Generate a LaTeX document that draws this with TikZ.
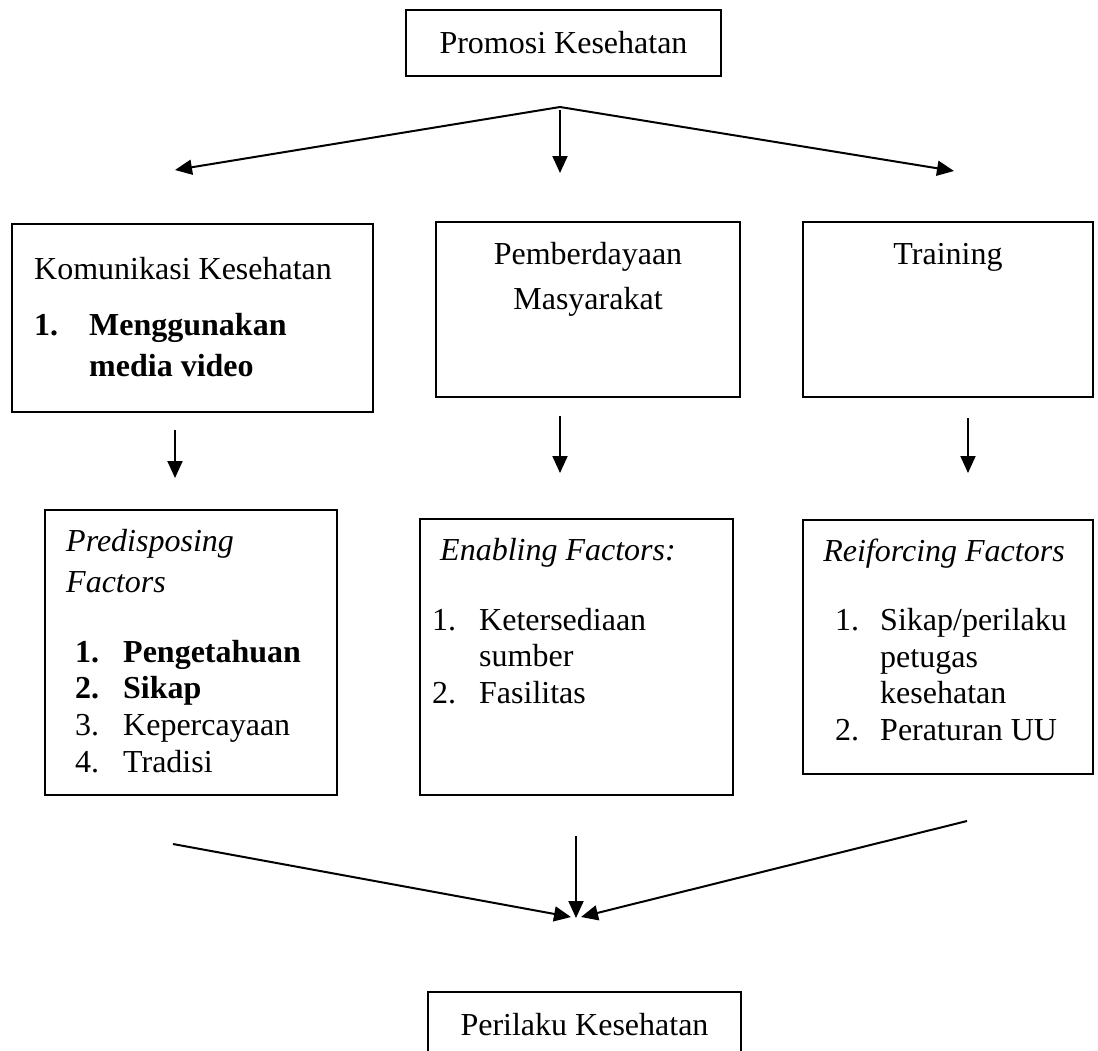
\documentclass[tikz,border=0pt]{standalone}
\usepackage{fontspec}
\setmainfont{Liberation Serif}
\usetikzlibrary{arrows.meta}
\begin{document}
\begin{tikzpicture}[x=1pt,y=-1pt,
  box/.style={draw,line width=1.6pt,inner sep=0pt},
  lbl/.style={inner sep=0pt,font=\fontsize{32}{37}\selectfont},
  arr/.style={line width=2pt,-{Triangle[length=17pt,width=15pt]}},
  ln/.style={line width=2pt}]
\path[use as bounding box] (0,0) rectangle (1098,1050);
\clip (0,0) rectangle (1098,1050);
\fill[white] (0,0) rectangle (1098,1050);

% top box
\node[box,lbl,minimum width=315pt,minimum height=66pt] (promosi) at (563.5,43) {Promosi Kesehatan};

% second row boxes
\node[box,minimum width=361pt,minimum height=188pt] (kom) at (192.5,318) {};
\node[box,minimum width=304pt,minimum height=175pt] (pem) at (588,309.5) {};
\node[box,minimum width=290pt,minimum height=175pt] (tra) at (948,309.5) {};

\node[lbl,anchor=base west] (komT) at (34,279) {Komunikasi Kesehatan};
\node[lbl,anchor=base west] (komN) at (34,335) {\bfseries 1.};
\node[lbl,anchor=base west] (komA) at (89,335) {\bfseries Menggunakan};
\node[lbl,anchor=base west] (komB) at (89,376) {\bfseries media video};

\node[lbl,anchor=base] (pemA) at (588,264) {Pemberdayaan};
\node[lbl,anchor=base] (pemB) at (588,309) {Masyarakat};

\node[lbl,anchor=base] (traT) at (948,264) {Training};

% third row boxes
\node[box,minimum width=292pt,minimum height=285pt] (pre) at (191,652.5) {};
\node[box,minimum width=313pt,minimum height=276pt] (ena) at (576.5,657) {};
\node[box,minimum width=290pt,minimum height=254pt] (rei) at (948,647) {};

\node[lbl,anchor=base west] (preA) at (66,551) {\itshape Predisposing};
\node[lbl,anchor=base west] (preB) at (66,592) {\itshape Factors};
\node[lbl,anchor=base west] (pre1) at (75,662) {\bfseries 1.};
\node[lbl,anchor=base west] (pre1t) at (123,662) {\bfseries Pengetahuan};
\node[lbl,anchor=base west] (pre2) at (75,698) {\bfseries 2.};
\node[lbl,anchor=base west] (pre2t) at (123,698) {\bfseries Sikap};
\node[lbl,anchor=base west] (pre3) at (75,735) {3.};
\node[lbl,anchor=base west] (pre3t) at (123,735) {Kepercayaan};
\node[lbl,anchor=base west] (pre4) at (75,772) {4.};
\node[lbl,anchor=base west] (pre4t) at (123,772) {Tradisi};

\node[lbl,anchor=base west] (enaT) at (440,560) {\itshape Enabling Factors:};
\node[lbl,anchor=base west] (ena1) at (432,630) {1.};
\node[lbl,anchor=base west] (ena1t) at (479,630) {Ketersediaan};
\node[lbl,anchor=base west] (ena1u) at (479,666) {sumber};
\node[lbl,anchor=base west] (ena2) at (432,703) {2.};
\node[lbl,anchor=base west] (ena2t) at (479,703) {Fasilitas};

\node[lbl,anchor=base] (reiT) at (944,561) {\itshape Reiforcing Factors};
\node[lbl,anchor=base west] (rei1) at (835,630) {1.};
\node[lbl,anchor=base west] (rei1t) at (880,630) {Sikap/perilaku};
\node[lbl,anchor=base west] (rei1u) at (880,667) {petugas};
\node[lbl,anchor=base west] (rei1v) at (880,703) {kesehatan};
\node[lbl,anchor=base west] (rei2) at (835,740) {2.};
\node[lbl,anchor=base west] (rei2t) at (880,740) {Peraturan UU};

% bottom box
\node[box,lbl,minimum width=313pt,minimum height=66pt] (per) at (584.5,1025) {Perilaku Kesehatan};

% coordinates for arrows
\coordinate (apex) at (560,107);
\coordinate (apexd) at (560,110);
\coordinate (t1) at (175,170);
\coordinate (t2) at (560,173);
\coordinate (t3) at (954,171);
\coordinate (m1a) at (175,430);
\coordinate (m1b) at (175,478);
\coordinate (m2a) at (560,416);
\coordinate (m2b) at (560,473);
\coordinate (m3a) at (968,418);
\coordinate (m3b) at (968,473);
\coordinate (b1a) at (173,844);
\coordinate (b1b) at (571,917);
\coordinate (b2a) at (576,836);
\coordinate (b2b) at (576,918);
\coordinate (b3a) at (967,821);
\coordinate (b3b) at (581,917);

\draw[arr] (apex) -- (t1);
\draw[arr] (apexd) -- (t2);
\draw[arr] (apex) -- (t3);
\draw[arr] (m1a) -- (m1b);
\draw[arr] (m2a) -- (m2b);
\draw[arr] (m3a) -- (m3b);
\draw[arr] (b1a) -- (b1b);
\draw[arr] (b2a) -- (b2b);
\draw[arr] (b3a) -- (b3b);
\end{tikzpicture}
\end{document}
